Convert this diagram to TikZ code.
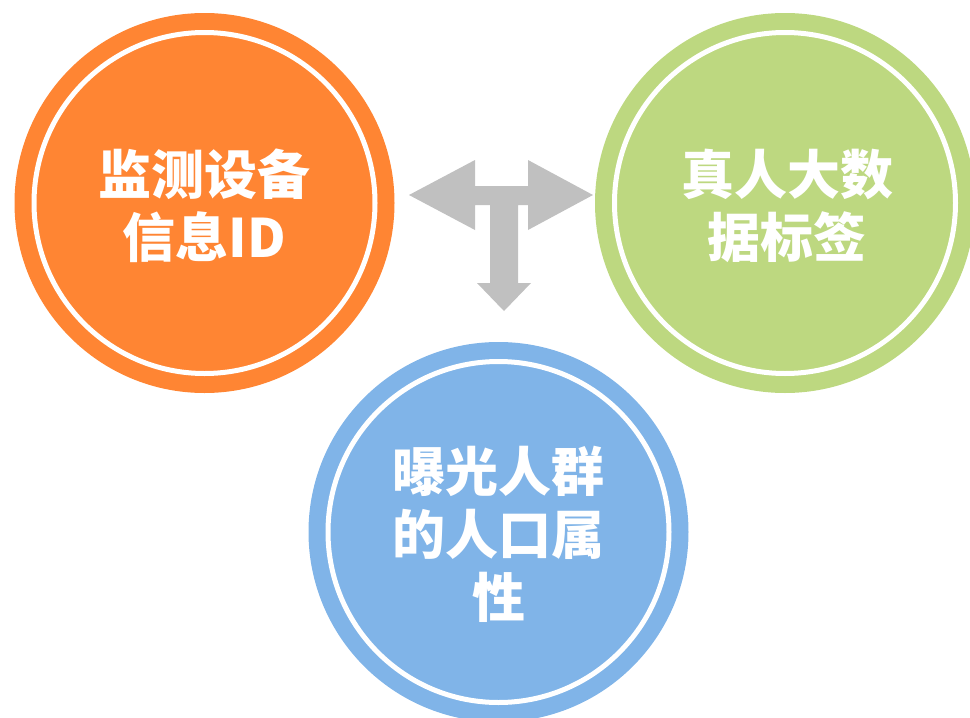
\documentclass[tikz,border=0pt]{standalone}
\usepackage{fontspec}
\newfontfamily\cjk{Noto Sans CJK SC}
\definecolor{corange}{RGB}{255,133,51}
\definecolor{cgreen}{RGB}{189,216,128}
\definecolor{cblue}{RGB}{128,180,232}
\definecolor{cgray}{RGB}{192,192,192}
\tikzset{
  disc/.style={circle, minimum size=380pt, inner sep=0pt, draw=none},
  ring/.style={draw=white, line width=5pt},
  label/.style={text=white, align=center, font=\cjk\bfseries\fontsize{53}{63}\selectfont, inner sep=0pt}
}
\begin{document}
\begin{tikzpicture}[x=1pt,y=-1pt]
\useasboundingbox (0,0) rectangle (970,718);
\begin{scope}
\clip (0,0) rectangle (970,718);
\node[disc, fill=corange] (o) at (204.5,203) {};
\draw[ring] (o.center) circle (170.5);
\node[disc, fill=cgreen] (g) at (785,203) {};
\draw[ring] (g.center) circle (170.5);
\node[disc, fill=cblue] (b) at (498.5,532) {};
\draw[ring] (b.center) circle (170.5);
\end{scope}
\node[label] (ot) at (204.5,206) {监测设备\\信息ID};
\node[label] (gt) at (787,206) {真人大数\\据标签};
\node[label] (bt) at (498.5,534) {曝光人群\\的人口属\\性};
\fill[cgray] (409,195) -- (475,160) -- (475,186) -- (528,186) -- (528,160) -- (593,195)
  -- (528,230) -- (528,205) -- (518,205) -- (518,283) -- (531,283) -- (504,311)
  -- (477,283) -- (490,283) -- (490,205) -- (475,205) -- (475,230) -- cycle;
\end{tikzpicture}
\end{document}
